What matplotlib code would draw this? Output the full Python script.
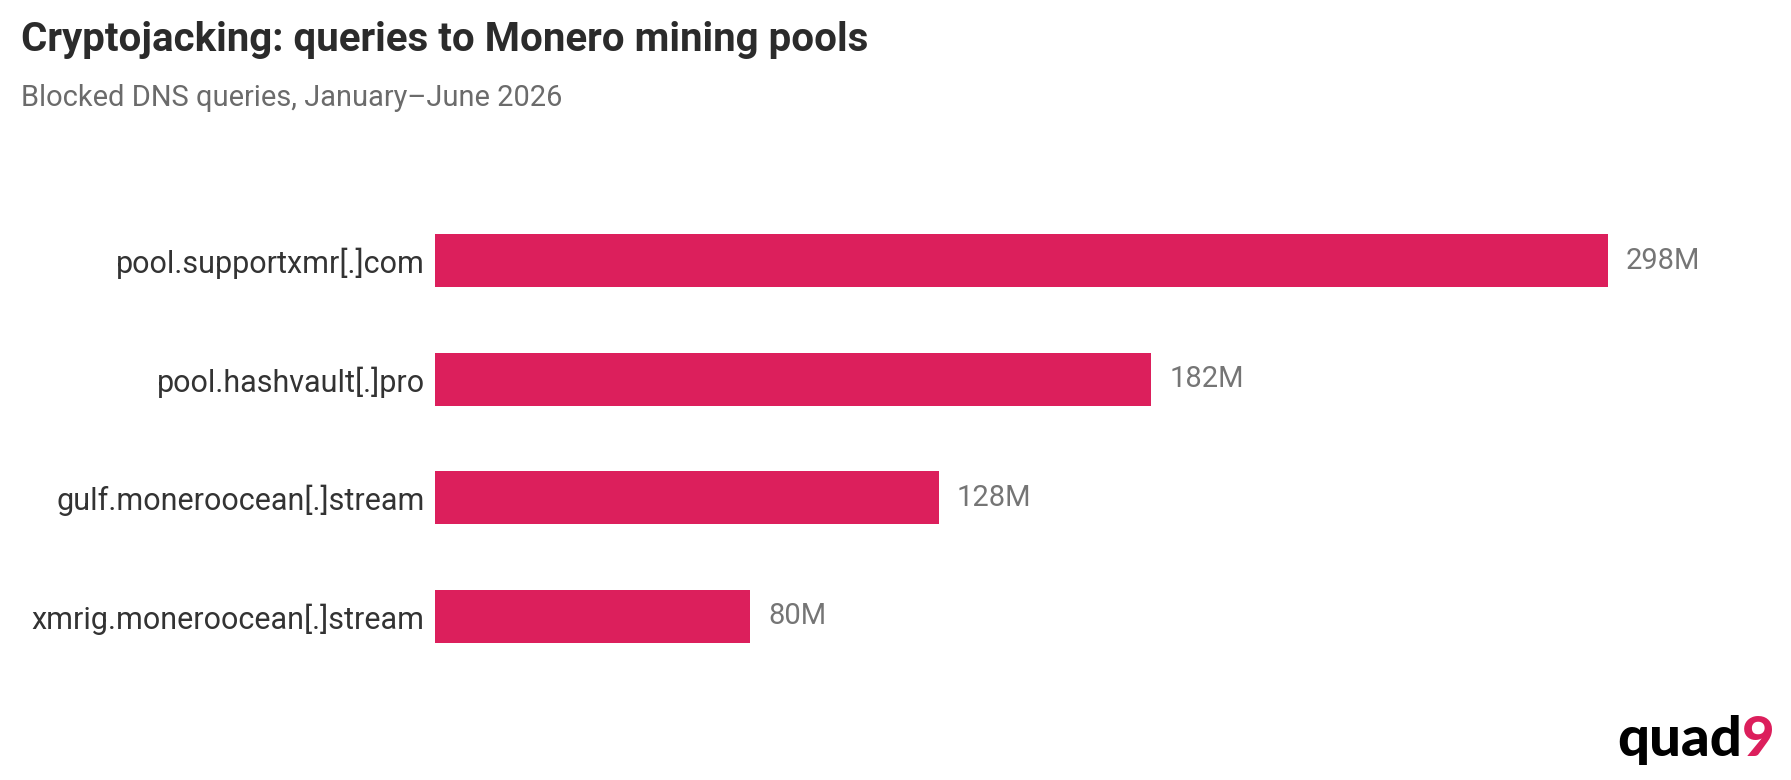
import matplotlib
matplotlib.use("Agg")
import matplotlib.pyplot as plt

categories = ["pool.supportxmr[.]com", "pool.hashvault[.]pro",
              "gulf.moneroocean[.]stream", "xmrig.moneroocean[.]stream"]
values = [298, 182, 128, 80]
value_labels = ["298M", "182M", "128M", "80M"]

title = "Cryptojacking: queries to Monero mining pools"
subtitle = "Blocked DNS queries, January\u2013June 2026"

BAR = "#DC1F5C"
W, H = 1791, 780
fig = plt.figure(figsize=(W / 100, H / 100), dpi=100)
fig.patch.set_facecolor("white")

ax_left, ax_right = 435, 1740
ax_top, ax_bot = 201.5, 675.5
ax = fig.add_axes([ax_left / W, 1 - ax_bot / H, (ax_right - ax_left) / W, (ax_bot - ax_top) / H])
px_per_unit = 3.936
ax.set_xlim(0, (ax_right - ax_left) / px_per_unit)
ypos = list(range(len(categories)))
ax.barh(ypos, values, height=0.45, color=BAR)
ax.set_ylim(len(categories) - 0.5, -0.5)
ax.set_yticks(ypos)
ax.set_yticklabels(categories, fontfamily="Roboto", fontsize=22, color="#333333")
ax.tick_params(axis="y", length=0, pad=7.5)
ax.set_xticks([])
for s in ax.spines.values():
    s.set_visible(False)

for y, v, lab in zip(ypos, values, value_labels):
    ax.annotate(lab, (v, y), xytext=(13, 0), textcoords="offset points",
                ha="left", va="center", fontfamily="Roboto", fontsize=21, color="#757575")

fig.text(21 / W, 1 - 51 / H, title, fontfamily="Roboto", fontweight="bold",
         fontsize=29, color="#2b2b2b", ha="left", va="baseline")
fig.text(21 / W, 1 - 106 / H, subtitle, fontfamily="Roboto",
         fontsize=20.9, color="#6b6b6b", ha="left", va="baseline")

# logo
t1 = fig.text(1617 / W, 1 - 756 / H, "quad", fontfamily="Lato", fontweight="black",
              fontsize=40.5, color="#000000", ha="left", va="baseline")
fig.canvas.draw()
bb = t1.get_window_extent()
fig.text(bb.x1 / W, 1 - 756 / H, "9", fontfamily="Lato", fontweight="black",
         fontsize=40.5, color=BAR, ha="left", va="baseline")

fig.savefig("out.png", dpi=100, facecolor="white")
